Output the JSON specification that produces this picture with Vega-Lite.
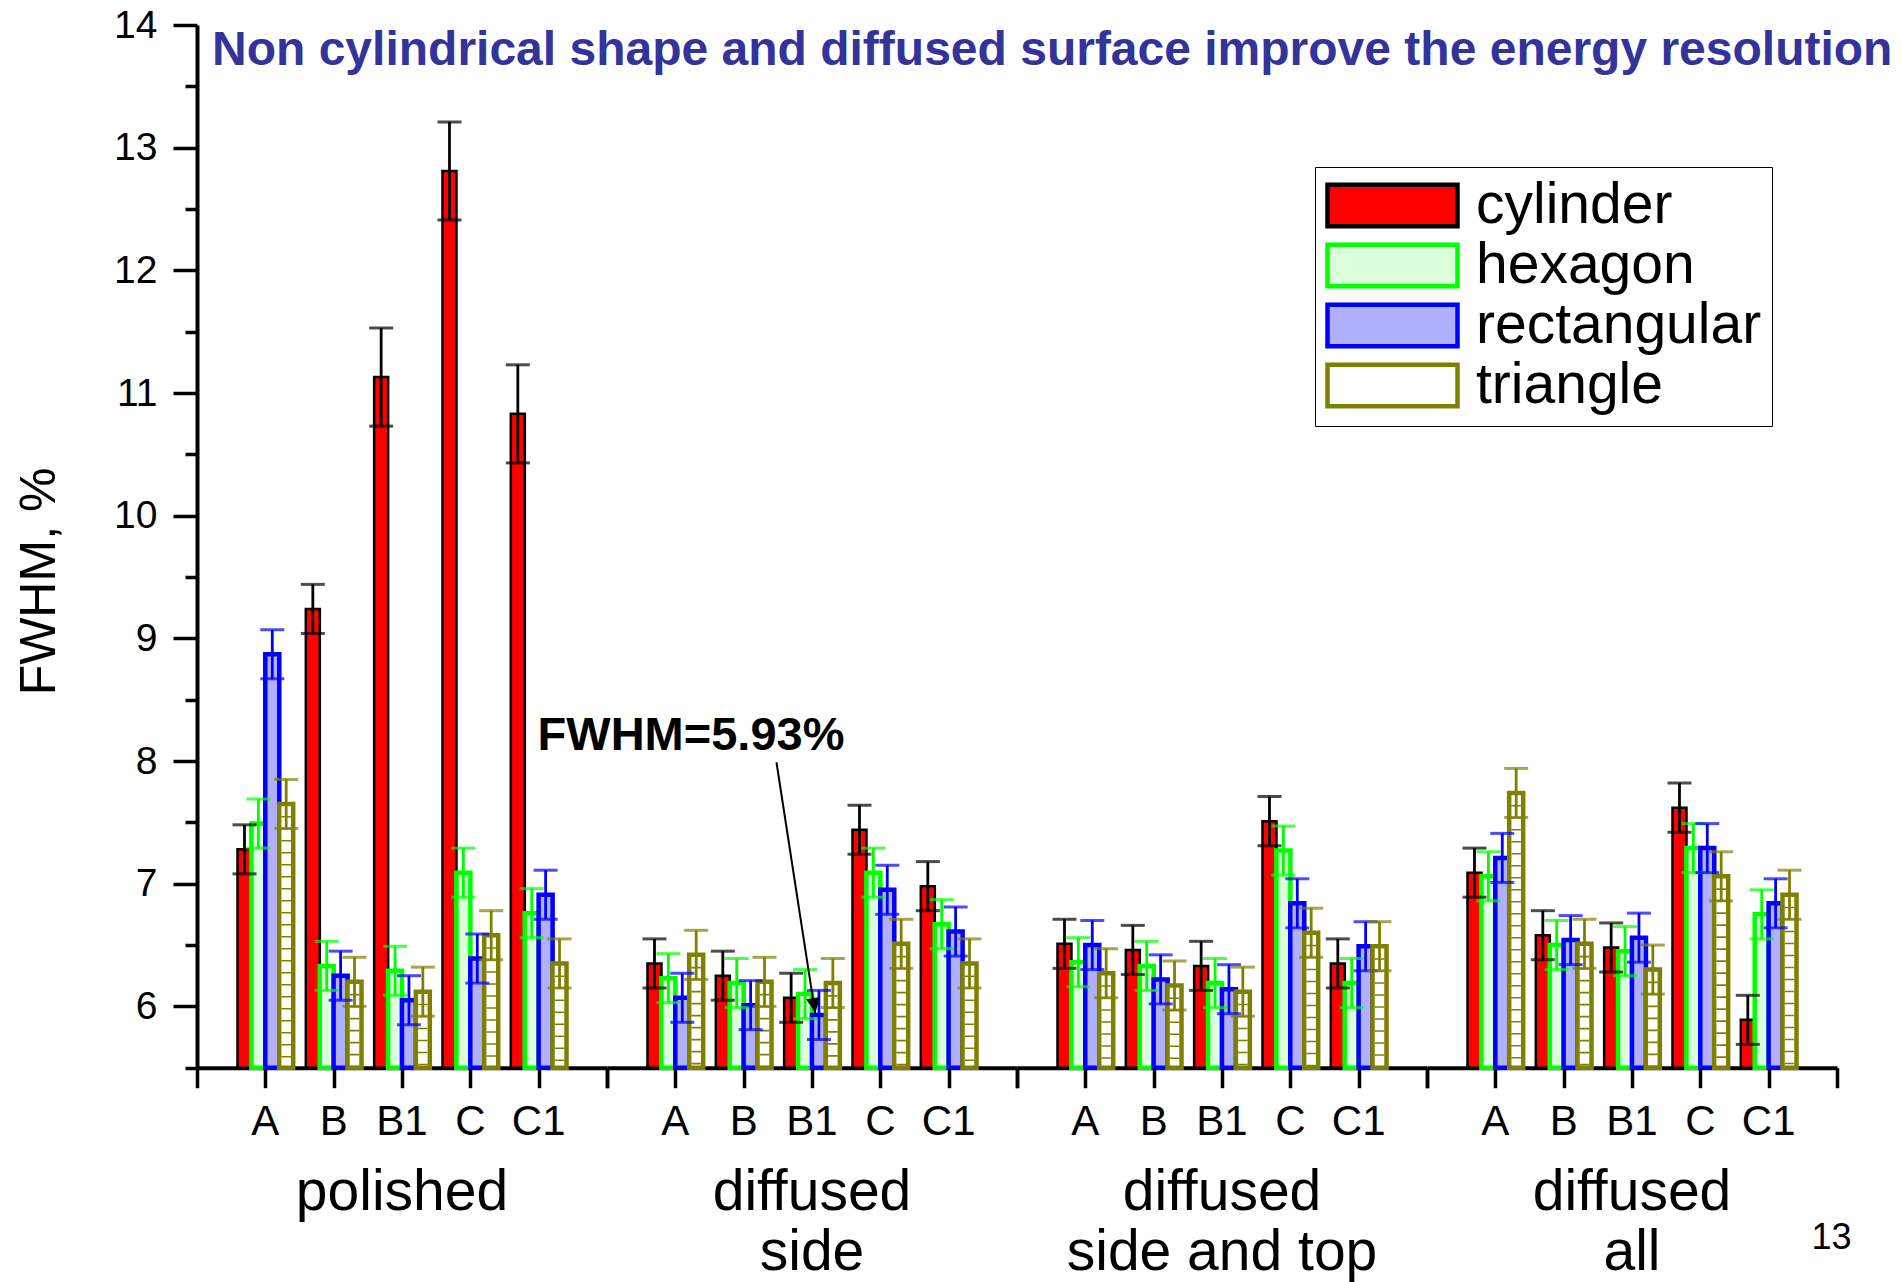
{
  "$schema": "https://vega.github.io/schema/vega-lite/v6.json",
  "autosize": {"type": "pad"},
  "padding": {"left": 14, "top": 6, "right": 0, "bottom": 12},
  "background": "white",
  "bounds": "flush",
  "data": {
    "values": [
      {"surface": "polished", "sample": "A", "shape": "cylinder", "fwhm": 7.28, "err": 0.2},
      {"surface": "polished", "sample": "A", "shape": "hexagon", "fwhm": 7.49, "err": 0.2},
      {"surface": "polished", "sample": "A", "shape": "rectangular", "fwhm": 8.87, "err": 0.2},
      {"surface": "polished", "sample": "A", "shape": "triangle", "fwhm": 7.65, "err": 0.2},
      {"surface": "polished", "sample": "B", "shape": "cylinder", "fwhm": 9.24, "err": 0.2},
      {"surface": "polished", "sample": "B", "shape": "hexagon", "fwhm": 6.33, "err": 0.2},
      {"surface": "polished", "sample": "B", "shape": "rectangular", "fwhm": 6.25, "err": 0.2},
      {"surface": "polished", "sample": "B", "shape": "triangle", "fwhm": 6.2, "err": 0.2},
      {"surface": "polished", "sample": "B1", "shape": "cylinder", "fwhm": 11.13, "err": 0.4},
      {"surface": "polished", "sample": "B1", "shape": "hexagon", "fwhm": 6.29, "err": 0.2},
      {"surface": "polished", "sample": "B1", "shape": "rectangular", "fwhm": 6.05, "err": 0.2},
      {"surface": "polished", "sample": "B1", "shape": "triangle", "fwhm": 6.12, "err": 0.2},
      {"surface": "polished", "sample": "C", "shape": "cylinder", "fwhm": 12.81, "err": 0.4},
      {"surface": "polished", "sample": "C", "shape": "hexagon", "fwhm": 7.09, "err": 0.2},
      {"surface": "polished", "sample": "C", "shape": "rectangular", "fwhm": 6.39, "err": 0.2},
      {"surface": "polished", "sample": "C", "shape": "triangle", "fwhm": 6.58, "err": 0.2},
      {"surface": "polished", "sample": "C1", "shape": "cylinder", "fwhm": 10.83, "err": 0.4},
      {"surface": "polished", "sample": "C1", "shape": "hexagon", "fwhm": 6.76, "err": 0.2},
      {"surface": "polished", "sample": "C1", "shape": "rectangular", "fwhm": 6.91, "err": 0.2},
      {"surface": "polished", "sample": "C1", "shape": "triangle", "fwhm": 6.35, "err": 0.2},

      {"surface": "diffused side", "sample": "A", "shape": "cylinder", "fwhm": 6.35, "err": 0.2},
      {"surface": "diffused side", "sample": "A", "shape": "hexagon", "fwhm": 6.23, "err": 0.2},
      {"surface": "diffused side", "sample": "A", "shape": "rectangular", "fwhm": 6.07, "err": 0.2},
      {"surface": "diffused side", "sample": "A", "shape": "triangle", "fwhm": 6.42, "err": 0.2},
      {"surface": "diffused side", "sample": "B", "shape": "cylinder", "fwhm": 6.25, "err": 0.2},
      {"surface": "diffused side", "sample": "B", "shape": "hexagon", "fwhm": 6.19, "err": 0.2},
      {"surface": "diffused side", "sample": "B", "shape": "rectangular", "fwhm": 6.01, "err": 0.2},
      {"surface": "diffused side", "sample": "B", "shape": "triangle", "fwhm": 6.2, "err": 0.2},
      {"surface": "diffused side", "sample": "B1", "shape": "cylinder", "fwhm": 6.07, "err": 0.2},
      {"surface": "diffused side", "sample": "B1", "shape": "hexagon", "fwhm": 6.1, "err": 0.2},
      {"surface": "diffused side", "sample": "B1", "shape": "rectangular", "fwhm": 5.93, "err": 0.2},
      {"surface": "diffused side", "sample": "B1", "shape": "triangle", "fwhm": 6.19, "err": 0.2},
      {"surface": "diffused side", "sample": "C", "shape": "cylinder", "fwhm": 7.44, "err": 0.2},
      {"surface": "diffused side", "sample": "C", "shape": "hexagon", "fwhm": 7.09, "err": 0.2},
      {"surface": "diffused side", "sample": "C", "shape": "rectangular", "fwhm": 6.95, "err": 0.2},
      {"surface": "diffused side", "sample": "C", "shape": "triangle", "fwhm": 6.51, "err": 0.2},
      {"surface": "diffused side", "sample": "C1", "shape": "cylinder", "fwhm": 6.98, "err": 0.2},
      {"surface": "diffused side", "sample": "C1", "shape": "hexagon", "fwhm": 6.67, "err": 0.2},
      {"surface": "diffused side", "sample": "C1", "shape": "rectangular", "fwhm": 6.61, "err": 0.2},
      {"surface": "diffused side", "sample": "C1", "shape": "triangle", "fwhm": 6.35, "err": 0.2},

      {"surface": "diffused side and top", "sample": "A", "shape": "cylinder", "fwhm": 6.51, "err": 0.2},
      {"surface": "diffused side and top", "sample": "A", "shape": "hexagon", "fwhm": 6.36, "err": 0.2},
      {"surface": "diffused side and top", "sample": "A", "shape": "rectangular", "fwhm": 6.5, "err": 0.2},
      {"surface": "diffused side and top", "sample": "A", "shape": "triangle", "fwhm": 6.27, "err": 0.2},
      {"surface": "diffused side and top", "sample": "B", "shape": "cylinder", "fwhm": 6.46, "err": 0.2},
      {"surface": "diffused side and top", "sample": "B", "shape": "hexagon", "fwhm": 6.33, "err": 0.2},
      {"surface": "diffused side and top", "sample": "B", "shape": "rectangular", "fwhm": 6.22, "err": 0.2},
      {"surface": "diffused side and top", "sample": "B", "shape": "triangle", "fwhm": 6.17, "err": 0.2},
      {"surface": "diffused side and top", "sample": "B1", "shape": "cylinder", "fwhm": 6.33, "err": 0.2},
      {"surface": "diffused side and top", "sample": "B1", "shape": "hexagon", "fwhm": 6.19, "err": 0.2},
      {"surface": "diffused side and top", "sample": "B1", "shape": "rectangular", "fwhm": 6.14, "err": 0.2},
      {"surface": "diffused side and top", "sample": "B1", "shape": "triangle", "fwhm": 6.12, "err": 0.2},
      {"surface": "diffused side and top", "sample": "C", "shape": "cylinder", "fwhm": 7.51, "err": 0.2},
      {"surface": "diffused side and top", "sample": "C", "shape": "hexagon", "fwhm": 7.27, "err": 0.2},
      {"surface": "diffused side and top", "sample": "C", "shape": "rectangular", "fwhm": 6.84, "err": 0.2},
      {"surface": "diffused side and top", "sample": "C", "shape": "triangle", "fwhm": 6.6, "err": 0.2},
      {"surface": "diffused side and top", "sample": "C1", "shape": "cylinder", "fwhm": 6.35, "err": 0.2},
      {"surface": "diffused side and top", "sample": "C1", "shape": "hexagon", "fwhm": 6.19, "err": 0.2},
      {"surface": "diffused side and top", "sample": "C1", "shape": "rectangular", "fwhm": 6.49, "err": 0.2},
      {"surface": "diffused side and top", "sample": "C1", "shape": "triangle", "fwhm": 6.49, "err": 0.2},

      {"surface": "diffused all", "sample": "A", "shape": "cylinder", "fwhm": 7.09, "err": 0.2},
      {"surface": "diffused all", "sample": "A", "shape": "hexagon", "fwhm": 7.06, "err": 0.2},
      {"surface": "diffused all", "sample": "A", "shape": "rectangular", "fwhm": 7.21, "err": 0.2},
      {"surface": "diffused all", "sample": "A", "shape": "triangle", "fwhm": 7.74, "err": 0.2},
      {"surface": "diffused all", "sample": "B", "shape": "cylinder", "fwhm": 6.58, "err": 0.2},
      {"surface": "diffused all", "sample": "B", "shape": "hexagon", "fwhm": 6.5, "err": 0.2},
      {"surface": "diffused all", "sample": "B", "shape": "rectangular", "fwhm": 6.54, "err": 0.2},
      {"surface": "diffused all", "sample": "B", "shape": "triangle", "fwhm": 6.51, "err": 0.2},
      {"surface": "diffused all", "sample": "B1", "shape": "cylinder", "fwhm": 6.48, "err": 0.2},
      {"surface": "diffused all", "sample": "B1", "shape": "hexagon", "fwhm": 6.45, "err": 0.2},
      {"surface": "diffused all", "sample": "B1", "shape": "rectangular", "fwhm": 6.56, "err": 0.2},
      {"surface": "diffused all", "sample": "B1", "shape": "triangle", "fwhm": 6.3, "err": 0.2},
      {"surface": "diffused all", "sample": "C", "shape": "cylinder", "fwhm": 7.62, "err": 0.2},
      {"surface": "diffused all", "sample": "C", "shape": "hexagon", "fwhm": 7.29, "err": 0.2},
      {"surface": "diffused all", "sample": "C", "shape": "rectangular", "fwhm": 7.29, "err": 0.2},
      {"surface": "diffused all", "sample": "C", "shape": "triangle", "fwhm": 7.06, "err": 0.2},
      {"surface": "diffused all", "sample": "C1", "shape": "cylinder", "fwhm": 5.89, "err": 0.2},
      {"surface": "diffused all", "sample": "C1", "shape": "hexagon", "fwhm": 6.75, "err": 0.2},
      {"surface": "diffused all", "sample": "C1", "shape": "rectangular", "fwhm": 6.84, "err": 0.2},
      {"surface": "diffused all", "sample": "C1", "shape": "triangle", "fwhm": 6.91, "err": 0.2}
    ]
  },
  "facet": {
    "column": {
      "field": "surface", "type": "nominal", "title": null,
      "sort": ["polished", "diffused side", "diffused side and top", "diffused all"],
      "header": {
        "labelOrient": "bottom",
        "labelFont": "Liberation Sans", "labelFontSize": 57, "labelColor": "black",
        "labelPadding": 97, "labelLineHeight": 60,
        "labelExpr": "datum.value == 'polished' ? 'polished' : ['diffused', substring(datum.value, 9)]"
      }
    }
  },
  "spacing": 0,
  "resolve": {"scale": {"x": "independent", "xOffset": "independent"}, "axis": {"x": "independent"}},
  "spec": {
    "width": 410,
    "height": 1042.7,
    "layer": [
      {
        "layer": [
          {
            "mark": {"type": "bar", "width": 14},
            "encoding": {
              "x": {"field": "sample", "type": "nominal", "title": null,
                    "scale": {"domain": ["A", "B", "B1", "C", "C1"], "paddingInner": 0, "paddingOuter": 0.5}},
              "xOffset": {"field": "shape", "type": "nominal",
                          "scale": {"domain": ["cylinder", "hexagon", "rectangular", "triangle"], "paddingInner": 0, "paddingOuter": 0.458}},
              "y": {"field": "fwhm", "type": "quantitative", "title": "FWHM, %",
                    "scale": {"domain": [5.5, 14], "zero": false, "nice": false},
                    "axis": {"values": [5.5, 6, 6.5, 7, 7.5, 8, 8.5, 9, 9.5, 10, 10.5, 11, 11.5, 12, 12.5, 13, 13.5, 14],
                             "labelExpr": "datum.value % 1 === 0 ? format(datum.value, 'd') : ''",
                             "tickSize": {"condition": {"test": "datum.value % 1 === 0", "value": 24}, "value": 12}}},
              "y2": {"datum": 5.5},
              "fill": {"field": "shape", "type": "nominal", "title": null,
                       "scale": {"domain": ["cylinder", "hexagon", "rectangular", "triangle"], "range": ["#ff0000", "#dcffdc", "#b0b0ff", "#ffffff"]},
                       "legend": {"orient": "none", "legendX": 1118, "legendY": 142, "title": null,
                                  "padding": 10, "strokeColor": "black", "fillColor": "white",
                                  "symbolType": "M-2.5,-0.8H2.5V0.8H-2.5Z", "symbolSize": 2704, "symbolOffset": 39,
                                  "symbolStrokeWidth": 4.5, "labelOffset": 55,
                                  "labelFont": "Liberation Sans", "labelFontSize": 57, "labelColor": "black",
                                  "rowPadding": -1, "labelLimit": 400}},
              "stroke": {"field": "shape", "type": "nominal", "title": null,
                         "scale": {"domain": ["cylinder", "hexagon", "rectangular", "triangle"], "range": ["#000000", "#00ff00", "#0000ff", "#808000"]},
                         "legend": {"orient": "none", "legendX": 1118, "legendY": 142, "title": null,
                                    "padding": 10, "strokeColor": "black", "fillColor": "white",
                                    "symbolType": "M-2.5,-0.8H2.5V0.8H-2.5Z", "symbolSize": 2704, "symbolOffset": 39,
                                    "symbolStrokeWidth": 4.5, "labelOffset": 55,
                                    "labelFont": "Liberation Sans", "labelFontSize": 57, "labelColor": "black",
                                    "rowPadding": -1, "labelLimit": 400}},
              "strokeWidth": {"condition": {"test": "datum.shape === 'cylinder'", "value": 2.5}, "value": 4.5}
            }
          },
          {
            "transform": [{"filter": "datum.shape === 'triangle'"}],
            "mark": {"type": "rule", "color": "#808000", "strokeWidth": 9.5, "strokeDash": [1.6, 10.4]},
            "encoding": {
              "x": {"field": "sample", "type": "nominal", "title": null},
              "xOffset": {"field": "shape", "type": "nominal"},
              "y": {"field": "fwhm", "type": "quantitative", "title": "FWHM, %"},
              "y2": {"datum": 5.5}
            }
          },
          {
            "mark": {"type": "errorbar", "ticks": {"size": 24, "thickness": 3}, "rule": {"strokeWidth": 2.8}},
            "encoding": {
              "x": {"field": "sample", "type": "nominal", "title": null},
              "xOffset": {"field": "shape", "type": "nominal"},
              "y": {"field": "fwhm", "type": "quantitative", "title": "FWHM, %"},
              "yError": {"field": "err"},
              "color": {"field": "shape", "type": "nominal", "legend": null,
                        "scale": {"domain": ["cylinder", "hexagon", "rectangular", "triangle"], "range": ["#000000", "#00ff00", "#0000ff", "#808000"]}}
            }
          }
        ]
      },
      {
        "layer": [
          {
            "transform": [{"filter": "datum.surface === 'diffused side' && datum.sample === 'B1' && datum.shape === 'rectangular'"}],
            "mark": {"type": "text", "text": "FWHM=5.93%", "font": "Liberation Sans", "fontSize": 47, "fontWeight": "bold", "color": "black", "align": "center", "baseline": "alphabetic"},
            "encoding": {
              "x": {"datum": 1.23, "type": "quantitative", "title": null,
                    "scale": {"domain": [0, 6], "nice": false, "zero": false},
                    "axis": {"orient": "bottom", "values": [0, 0.5, 1, 1.5, 2, 2.5, 3, 3.5, 4, 4.5, 5, 5.5, 6],
                             "tickSize": {"condition": {"test": "datum.value % 1 === 0", "value": 20}, "value": 11}}},
              "y": {"datum": 8.09, "type": "quantitative", "title": "FWHM, %"}
            }
          },
          {
            "transform": [{"filter": "datum.surface === 'diffused side' && datum.sample === 'B1' && datum.shape === 'rectangular'"}],
            "mark": {"type": "rule", "color": "black", "strokeWidth": 2},
            "encoding": {
              "x": {"datum": 3.05, "type": "quantitative", "title": null},
              "x2": {"datum": 2.48},
              "y": {"field": "fwhm", "type": "quantitative", "title": "FWHM, %"},
              "y2": {"datum": 7.99}
            }
          },
          {
            "transform": [{"filter": "datum.surface === 'diffused side' && datum.sample === 'B1' && datum.shape === 'rectangular'"}],
            "mark": {"type": "point", "shape": "M0,0L-0.875,-1.875L0.875,-1.875Z", "size": 256, "angle": 351, "filled": true, "color": "black", "opacity": 1, "yOffset": -2},
            "encoding": {
              "x": {"datum": 3.05, "type": "quantitative", "title": null},
              "y": {"field": "fwhm", "type": "quantitative", "title": "FWHM, %"}
            }
          },
          {
            "transform": [{"filter": "datum.surface === 'polished' && datum.sample === 'A' && datum.shape === 'cylinder'"}],
            "mark": {"type": "text", "text": "Non cylindrical shape and diffused surface improve the energy resolution", "font": "Liberation Sans", "fontSize": 48, "fontWeight": "bold", "color": "#333399", "align": "left", "baseline": "alphabetic", "clip": false},
            "encoding": {
              "x": {"datum": 0.22, "type": "quantitative", "title": null},
              "y": {"datum": 13.676, "type": "quantitative", "title": "FWHM, %"}
            }
          },
          {
            "transform": [{"filter": "datum.surface === 'diffused all' && datum.sample === 'C1' && datum.shape === 'triangle'"}],
            "mark": {"type": "text", "text": "13", "font": "Liberation Sans", "fontSize": 36, "color": "black", "align": "center", "baseline": "alphabetic", "clip": false},
            "encoding": {
              "x": {"datum": 5.92, "type": "quantitative", "title": null},
              "y": {"datum": 4.02, "type": "quantitative", "title": "FWHM, %"}
            }
          }
        ]
      }
    ],
    "resolve": {"scale": {"x": "independent"}, "axis": {"x": "independent"}}
  },
  "config": {
    "font": "Liberation Sans",
    "view": {"stroke": null},
    "axisY": {
      "grid": false, "domainColor": "black", "domainWidth": 4,
      "tickColor": "black", "tickWidth": 3.5,
      "labelFont": "Liberation Sans", "labelFontSize": 39, "labelColor": "black", "labelPadding": 16,
      "titleFont": "Liberation Sans", "titleFontSize": 50, "titleFontWeight": "normal", "titleColor": "black",
      "titleX": -158, "titleY": 556, "titleAlign": "center", "titleBaseline": "middle", "titleAngle": 270
    },
    "axisXBand": {
      "grid": false, "ticks": false, "domain": true, "domainColor": "black", "domainWidth": 4,
      "labelFont": "Liberation Sans", "labelFontSize": 42, "labelColor": "black", "labelPadding": 34, "labelAngle": 0
    },
    "axisXQuantitative": {
      "grid": false, "labels": false, "domain": false, "tickColor": "black", "tickWidth": 3.5
    }
  }
}
